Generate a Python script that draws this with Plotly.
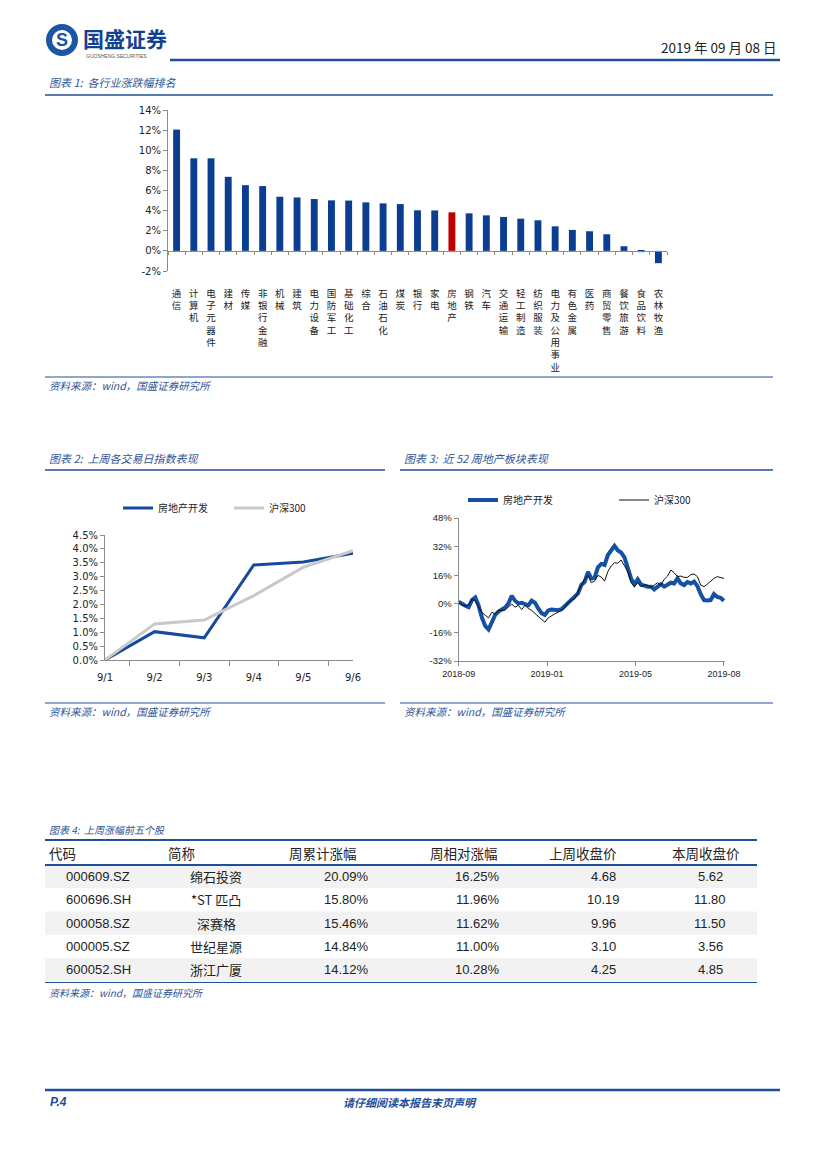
import plotly.graph_objects as go

W, H = 827, 1169


def px(x):
    return x / W


def py(y):
    return 1 - y / H


# ---------------- data ----------------
industries = ['通信', '计算机', '电子元器件', '建材', '传媒', '非银行金融', '机械', '建筑',
              '电力设备', '国防军工', '基础化工', '综合', '石油石化', '煤炭', '银行', '家电',
              '房地产', '钢铁', '汽车', '交通运输', '轻工制造', '纺织服装', '电力及公用事业',
              '有色金属', '医药', '商贸零售', '餐饮旅游', '食品饮料', '农林牧渔']
industry_change = [12.05, 9.2, 9.2, 7.36, 6.53, 6.44, 5.38, 5.31, 5.15, 5.02, 5.0, 4.82,
                   4.72, 4.65, 4.03, 4.02, 3.83, 3.73, 3.53, 3.37, 3.2, 3.04, 2.44, 2.08,
                   1.95, 1.65, 0.46, -0.13, -1.22]
highlight_industry = '房地产'
chg_ticks = [-2, 0, 2, 4, 6, 8, 10, 12, 14]

week_days = ['9/1', '9/2', '9/3', '9/4', '9/5', '9/6']
re_dev_week = [0.0, 1.02, 0.80, 3.42, 3.53, 3.84]
hs300_week = [0.0, 1.30, 1.44, 2.32, 3.34, 3.94]

re_dev_52w = [1.1, -0.2, -1.1, -1.9, 2.1, 3.6, -0.9, -7.7, -12.4, -14.4, -10.1, -6.2, -4.3,
              -3.4, -2.1, 0.2, 4.5, 1.7, 0.2, 0.6, -0.2, -0.9, 1.7, 0.6, -2.6, -5.2, -6.2,
              -3.7, -3.2, -3.4, -3.6, -3.0, -1.3, 0.6, 2.6, 3.7, 5.8, 10.5, 12.2, 17.8, 14.2,
              14.6, 20.4, 22.3, 21.7, 27.3, 29.8, 32.4, 29.8, 28.7, 26.0, 19.9, 14.2, 11.0,
              13.7, 10.7, 9.9, 9.6, 9.6, 8.1, 9.6, 11.0, 9.6, 10.7, 11.8, 11.4, 14.2, 11.4,
              10.5, 12.2, 11.4, 12.4, 9.9, 5.4, 2.1, 1.9, 2.1, 5.4, 3.9, 3.4, 1.7]
hs300_52w = [0.6, -0.6, -1.3, -0.7, 2.4, 1.7, -1.7, -4.9, -6.4, -7.9, -4.7, -5.8, -3.7,
             -3.6, -3.6, -1.7, -0.2, -1.9, -0.9, -3.2, -0.9, -2.6, -3.6, -5.4, -7.1, -8.8,
             -10.3, -7.9, -6.6, -5.6, -4.7, -3.7, -2.1, 0.7, 1.9, 2.8, 6.7, 10.1, 14.0, 15.9,
             11.8, 12.7, 15.9, 15.0, 12.7, 18.0, 21.2, 23.0, 22.7, 24.5, 21.2, 18.0, 11.8,
             9.6, 11.8, 9.6, 10.7, 10.3, 9.2, 10.5, 11.8, 10.5, 13.7, 15.5, 18.9, 17.4, 15.2,
             15.5, 14.8, 14.8, 16.3, 16.7, 15.2, 10.5, 9.6, 11.0, 12.9, 14.2, 15.2, 14.8, 14.2]
sample_step_days = 3
month_labels_52w = ['2018-09', '2019-01', '2019-05', '2019-08']
month_label_days = [0, 80, 160, 240]
pct_ticks_52w = [-32, -16, 0, 16, 32, 48]

tbl_header = ['代码', '简称', '周累计涨幅', '周相对涨幅', '上周收盘价', '本周收盘价']
tbl_code = ['000609.SZ', '600696.SH', '000058.SZ', '000005.SZ', '600052.SH']
tbl_name = ['绵石投资', '*ST 匹凸', '深赛格', '世纪星源', '浙江广厦']
tbl_week_chg = ['20.09%', '15.80%', '15.46%', '14.84%', '14.12%']
tbl_rel_chg = ['16.25%', '11.96%', '11.62%', '11.00%', '10.28%']
tbl_prev_close = ['4.68', '10.19', '9.96', '3.10', '4.25']
tbl_close = ['5.62', '11.80', '11.50', '3.56', '4.85']

# ---------------- styles ----------------
CJK = 'Noto Sans CJK SC'
LAT = 'Liberation Sans'
VER = 'DejaVu Sans'
BLUE = '#0B3E91'
RED = '#C00000'
LINEBLUE = '#1F4E9A'
CAPBLUE = '#2F5597'
AXC = '#8C8C8C'
TXT = '#222222'

fig = go.Figure()

# ---------- chart 1: bars ----------
bar_colors = [RED if c == highlight_industry else BLUE for c in industries]
fig.add_trace(go.Bar(x=industries, y=industry_change, marker=dict(color=bar_colors, line=dict(width=0)),
                     width=0.4, xaxis='x', yaxis='y', showlegend=False, hoverinfo='x+y'))
# invisible trace for zero-line category axis (ticks at boundaries)
fig.add_trace(go.Scatter(x=industries, y=industry_change, mode='markers', marker=dict(opacity=0),
                         xaxis='x4', yaxis='y', showlegend=False, hoverinfo='skip'))

# ---------- chart 2 ----------
fig.add_trace(go.Scatter(x=week_days, y=re_dev_week, mode='lines', name='房地产开发',
                         line=dict(color='#174A9C', width=3), xaxis='x2', yaxis='y2', legend='legend'))
fig.add_trace(go.Scatter(x=week_days, y=hs300_week, mode='lines', name='沪深300',
                         line=dict(color='#C9C9C9', width=3), xaxis='x2', yaxis='y2', legend='legend'))

# ---------- chart 3 ----------
days52 = [i * sample_step_days for i in range(len(re_dev_52w))]
fig.add_trace(go.Scatter(x=days52, y=re_dev_52w, mode='lines', name='房地产开发',
                         line=dict(color='#1450A3', width=4), xaxis='x3', yaxis='y3', legend='legend2'))
fig.add_trace(go.Scatter(x=days52, y=hs300_52w, mode='lines', name='沪深300',
                         line=dict(color='#111111', width=1), xaxis='x3', yaxis='y3', legend='legend2'))

# axis geometry
c1_x = [px(168), px(667)]
c1_y = [py(271), py(110)]
c1_range = [min(chg_ticks), max(chg_ticks)]
zero_pos = c1_y[0] + (0 - c1_range[0]) / (c1_range[1] - c1_range[0]) * (c1_y[1] - c1_y[0])
cat_range = [-0.5, len(industries) - 0.5]

fig.update_layout(
    width=W, height=H, margin=dict(l=0, r=0, t=0, b=0, pad=0, autoexpand=False),
    paper_bgcolor='white', plot_bgcolor='white',
    font=dict(family=CJK, color=TXT),
    bargap=0.5,
    xaxis=dict(domain=c1_x, anchor='y', type='category', categoryorder='array', categoryarray=industries,
               range=cat_range, showline=False, ticks='', showgrid=False, zeroline=False, automargin=False,
               tickvals=industries, ticktext=['<br>'.join(c) for c in industries], ticklabelstandoff=15,
               tickfont=dict(family=CJK, size=9.5, color=TXT), tickangle=0),
    xaxis4=dict(overlaying='x', anchor='free', position=zero_pos, type='category', categoryorder='array',
                categoryarray=industries, range=cat_range, showline=True, linecolor=AXC, linewidth=1,
                ticks='outside', tickson='boundaries', ticklen=3, tickcolor='#9A8A6A', automargin=False,
                showticklabels=False, showgrid=False, zeroline=False),
    yaxis=dict(domain=c1_y, anchor='x', range=c1_range, tickvals=chg_ticks,
               ticktext=[f'{v}%' for v in chg_ticks], showline=True,
               linecolor=AXC, ticks='outside', ticklen=4, tickcolor=AXC, showgrid=False, zeroline=False,
               automargin=False, tickfont=dict(family=VER, size=10, color=TXT)),
    xaxis2=dict(domain=[px(105), px(353)], anchor='y2', type='category', tickson='boundaries',
                ticks='outside', ticklen=5, tickcolor=AXC, showline=True, linecolor=AXC, showgrid=False,
                automargin=False, ticklabelstandoff=8, tickfont=dict(family=VER, size=10, color=TXT)),
    yaxis2=dict(domain=[py(660), py(535)], anchor='x2', range=[0, 4.5], dtick=0.5, tickformat='.1f',
                ticksuffix='%', showline=True, linecolor=AXC, ticks='outside', ticklen=4, tickcolor=AXC,
                showgrid=False, zeroline=False, automargin=False,
                tickfont=dict(family=VER, size=10, color=TXT)),
    xaxis3=dict(domain=[px(458.7), px(725)], anchor='y3', range=[0, 241], tickvals=month_label_days,
                ticktext=month_labels_52w, ticks='outside', ticklen=4, tickcolor=AXC, showline=True,
                linecolor=AXC, showgrid=False, zeroline=False, automargin=False,
                tickfont=dict(family=LAT, size=9, color=TXT)),
    yaxis3=dict(domain=[py(661), py(518)], anchor='x3', range=[min(pct_ticks_52w), max(pct_ticks_52w)],
                tickvals=pct_ticks_52w, ticktext=[f'{v}%' for v in pct_ticks_52w],
                showline=True, linecolor=AXC, ticks='outside', ticklen=4, tickcolor=AXC, showgrid=False,
                zeroline=False, automargin=False, tickfont=dict(family=LAT, size=9.5, color=TXT)),
    legend=dict(orientation='h', x=px(118), y=py(508), xanchor='left', yanchor='middle',
                entrywidth=66, entrywidthmode='pixels', font=dict(family=CJK, size=10, color=TXT),
                bgcolor='rgba(0,0,0,0)', itemclick=False),
    legend2=dict(orientation='h', x=px(463), y=py(500), xanchor='left', yanchor='middle',
                 entrywidth=106, entrywidthmode='pixels', font=dict(family=CJK, size=10, color=TXT),
                 bgcolor='rgba(0,0,0,0)', itemclick=False),
)

shapes = []


def hline(x0, x1, y, w, color=LINEBLUE):
    shapes.append(dict(type='line', xref='paper', yref='paper', x0=px(x0), x1=px(x1), y0=py(y), y1=py(y),
                       line=dict(color=color, width=w)))


hline(170, 780, 60, 2.5)
hline(45, 773, 95, 1.5)
hline(45, 773, 377, 1.0)
hline(45, 385, 470, 1.5)
hline(400, 773, 470, 1.5)
hline(45, 385, 703, 1.0)
hline(400, 773, 703, 1.0)
hline(45, 780, 1090, 2.5)

# table row fills
tbl_top, hdr_bottom, row_h = 840, 865, 23.3
for i in range(len(tbl_code)):
    if i % 2 == 0:
        shapes.append(dict(type='rect', xref='paper', yref='paper', x0=px(45), x1=px(757),
                           y0=py(hdr_bottom + i * row_h), y1=py(hdr_bottom + (i + 1) * row_h),
                           fillcolor='#F2F2F2', line=dict(width=0), layer='below'))
hline(45, 757, tbl_top, 2)
hline(45, 757, hdr_bottom, 2)
hline(45, 757, hdr_bottom + len(tbl_code) * row_h + 1, 1)

# logo circle
shapes.append(dict(type='circle', xref='paper', yref='paper', x0=px(46), x1=px(78), y0=py(56), y1=py(24),
                   fillcolor='#1B57A5', line=dict(width=0)))
shapes.append(dict(type='circle', xref='paper', yref='paper', x0=px(52), x1=px(72), y0=py(50), y1=py(30),
                   fillcolor='white', line=dict(width=0)))
fig.update_layout(shapes=shapes)

ann = []


def text(x, y, s, size=10, color=TXT, anchor='left', family=CJK, italic=False, bold=False):
    if bold:
        s = '<b>' + s + '</b>'
    if italic:
        s = '<i>' + s + '</i>'
    ann.append(dict(x=px(x), y=py(y), xref='paper', yref='paper', text=s, showarrow=False,
                    xanchor=anchor, yanchor='middle', font=dict(family=family, size=size, color=color)))


# header
text(62, 40, 'S', size=18, color='#1B57A5', anchor='center', family=LAT, bold=True)
text(81, 38, '国盛证券', size=21, color='#12418F', bold=True)
text(84, 56, 'GUOSHENG SECURITIES', size=5, color='#555555', family=LAT)
text(779, 47, '2019 年 09 月 08 日', size=13.5, color='#222222', anchor='right')

# captions & sources
text(47, 82, '图表 1:  各行业涨跌幅排名', size=11, color=CAPBLUE, italic=True)
text(47, 385, '资料来源：wind，国盛证券研究所', size=10.5, color=CAPBLUE, italic=True)
text(47, 458, '图表 2:  上周各交易日指数表现', size=11, color=CAPBLUE, italic=True)
text(402, 458, '图表 3:  近 52 周地产板块表现', size=11, color=CAPBLUE, italic=True)
text(47, 711, '资料来源：wind，国盛证券研究所', size=10.5, color=CAPBLUE, italic=True)
text(402, 711, '资料来源：wind，国盛证券研究所', size=10.5, color=CAPBLUE, italic=True)
text(47, 829, '图表 4:  上周涨幅前五个股', size=10, color=CAPBLUE, italic=True)
text(47, 992, '资料来源：wind，国盛证券研究所', size=10, color=CAPBLUE, italic=True)

# table
hdr_x = [47, 166, 287, 428, 547, 670]
for hx, h in zip(hdr_x, tbl_header):
    text(hx, 853, h, size=13.5, color=TXT)
for i in range(len(tbl_code)):
    ry = hdr_bottom + (i + 0.5) * row_h
    text(98, ry, tbl_code[i], size=13, family=LAT, anchor='center')
    text(216, ry, tbl_name[i], size=13, anchor='center')
    text(371, ry, tbl_week_chg[i], size=13, family=LAT, anchor='right')
    text(502, ry, tbl_rel_chg[i], size=13, family=LAT, anchor='right')
    text(603, ry, tbl_prev_close[i], size=13, family=LAT, anchor='center')
    text(710, ry, tbl_close[i], size=13, family=LAT, anchor='center')

# footer
text(48, 1102, 'P.4', size=12, color='#1F4E9A', family=LAT, italic=True, bold=True)
text(410, 1102, '请仔细阅读本报告末页声明', size=11, color='#1F4E9A', anchor='center', italic=True, bold=True)

fig.update_layout(annotations=ann)
fig.write_html('out.html', config={'displayModeBar': False},
               post_script="document.body.style.margin='0px';")
